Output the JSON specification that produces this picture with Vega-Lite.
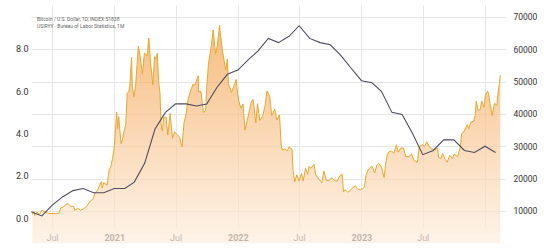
{
  "$schema": "https://vega.github.io/schema/vega-lite/v6.json",
  "width": 474,
  "height": 223,
  "autosize": {"type": "none"},
  "padding": {"left": 31, "top": 5, "right": 50, "bottom": 22},
  "background": "white",
  "title": {
    "text": "Bitcoin / U.S. Dollar, 1D, INDEX  51838",
    "subtitle": "USIRYY · Bureau of Labor Statistics, 1M",
    "anchor": "start",
    "frame": "group",
    "orient": "top",
    "fontSize": 5,
    "subtitleFontSize": 5,
    "font": "Roboto",
    "subtitleFont": "Roboto",
    "fontWeight": "normal",
    "color": "#666666",
    "subtitleColor": "#666666",
    "subtitlePadding": 2,
    "dx": 6,
    "dy": 24,
    "offset": 0
  },
  "datasets": {
    "btc": [
      {"d": "2020-05-04", "v": 8900}, {"d": "2020-05-08", "v": 9900}, {"d": "2020-05-11", "v": 8600}, {"d": "2020-05-18", "v": 9700},
      {"d": "2020-05-25", "v": 8900}, {"d": "2020-06-01", "v": 10200}, {"d": "2020-06-10", "v": 9800}, {"d": "2020-06-20", "v": 9300},
      {"d": "2020-07-01", "v": 9200}, {"d": "2020-07-15", "v": 9200}, {"d": "2020-07-22", "v": 9400}, {"d": "2020-07-27", "v": 11000},
      {"d": "2020-08-02", "v": 11100}, {"d": "2020-08-10", "v": 11900}, {"d": "2020-08-17", "v": 12300}, {"d": "2020-08-25", "v": 11500},
      {"d": "2020-09-03", "v": 11400}, {"d": "2020-09-06", "v": 10200}, {"d": "2020-09-15", "v": 10800}, {"d": "2020-09-23", "v": 10250},
      {"d": "2020-10-01", "v": 10600}, {"d": "2020-10-10", "v": 11300}, {"d": "2020-10-21", "v": 12900}, {"d": "2020-10-31", "v": 13800},
      {"d": "2020-11-05", "v": 15600}, {"d": "2020-11-12", "v": 16300}, {"d": "2020-11-18", "v": 17800}, {"d": "2020-11-24", "v": 19100},
      {"d": "2020-11-26", "v": 17100}, {"d": "2020-12-01", "v": 18800}, {"d": "2020-12-11", "v": 18000}, {"d": "2020-12-17", "v": 22800},
      {"d": "2020-12-21", "v": 23500}, {"d": "2020-12-27", "v": 26300}, {"d": "2020-12-31", "v": 29000},
      {"d": "2021-01-03", "v": 33000}, {"d": "2021-01-08", "v": 40600}, {"d": "2021-01-11", "v": 35500}, {"d": "2021-01-14", "v": 39200},
      {"d": "2021-01-21", "v": 30800}, {"d": "2021-01-26", "v": 32500}, {"d": "2021-01-29", "v": 34300}, {"d": "2021-02-04", "v": 36900},
      {"d": "2021-02-08", "v": 46400}, {"d": "2021-02-13", "v": 47000}, {"d": "2021-02-16", "v": 49000}, {"d": "2021-02-21", "v": 57500},
      {"d": "2021-02-23", "v": 48800}, {"d": "2021-02-28", "v": 45200}, {"d": "2021-03-05", "v": 48800}, {"d": "2021-03-13", "v": 61000},
      {"d": "2021-03-18", "v": 58000}, {"d": "2021-03-25", "v": 52300}, {"d": "2021-03-31", "v": 58900}, {"d": "2021-04-08", "v": 58000},
      {"d": "2021-04-13", "v": 63500}, {"d": "2021-04-18", "v": 56000}, {"d": "2021-04-25", "v": 49000}, {"d": "2021-04-30", "v": 57700},
      {"d": "2021-05-03", "v": 57000}, {"d": "2021-05-08", "v": 58800}, {"d": "2021-05-12", "v": 50000}, {"d": "2021-05-16", "v": 46500},
      {"d": "2021-05-19", "v": 37000}, {"d": "2021-05-23", "v": 34700}, {"d": "2021-05-27", "v": 39000}, {"d": "2021-06-03", "v": 39000},
      {"d": "2021-06-08", "v": 33500}, {"d": "2021-06-15", "v": 40200}, {"d": "2021-06-22", "v": 32500}, {"d": "2021-06-28", "v": 34500},
      {"d": "2021-07-05", "v": 33700}, {"d": "2021-07-13", "v": 32700}, {"d": "2021-07-20", "v": 29800}, {"d": "2021-07-26", "v": 37300},
      {"d": "2021-08-01", "v": 40000}, {"d": "2021-08-07", "v": 44500}, {"d": "2021-08-14", "v": 47100}, {"d": "2021-08-22", "v": 49300},
      {"d": "2021-08-27", "v": 48900}, {"d": "2021-09-06", "v": 51800}, {"d": "2021-09-07", "v": 46800}, {"d": "2021-09-14", "v": 47000},
      {"d": "2021-09-21", "v": 40500}, {"d": "2021-09-28", "v": 41000}, {"d": "2021-10-01", "v": 48200}, {"d": "2021-10-06", "v": 55300},
      {"d": "2021-10-15", "v": 61500}, {"d": "2021-10-20", "v": 66000}, {"d": "2021-10-27", "v": 58500}, {"d": "2021-11-01", "v": 61000},
      {"d": "2021-11-08", "v": 67500}, {"d": "2021-11-10", "v": 64900}, {"d": "2021-11-16", "v": 60000}, {"d": "2021-11-19", "v": 58000},
      {"d": "2021-11-26", "v": 53600}, {"d": "2021-12-01", "v": 57000}, {"d": "2021-12-04", "v": 49400}, {"d": "2021-12-13", "v": 46700},
      {"d": "2021-12-21", "v": 48900}, {"d": "2021-12-27", "v": 50700}, {"d": "2021-12-31", "v": 46300},
      {"d": "2022-01-05", "v": 43500}, {"d": "2022-01-10", "v": 41800}, {"d": "2022-01-16", "v": 43100}, {"d": "2022-01-22", "v": 35000},
      {"d": "2022-01-28", "v": 37700}, {"d": "2022-02-05", "v": 41500}, {"d": "2022-02-10", "v": 44000}, {"d": "2022-02-15", "v": 44500},
      {"d": "2022-02-23", "v": 37300}, {"d": "2022-02-28", "v": 43200}, {"d": "2022-03-07", "v": 38000}, {"d": "2022-03-15", "v": 39300},
      {"d": "2022-03-22", "v": 42400}, {"d": "2022-03-28", "v": 47100}, {"d": "2022-04-05", "v": 45500}, {"d": "2022-04-11", "v": 39500},
      {"d": "2022-04-20", "v": 41500}, {"d": "2022-04-26", "v": 38100}, {"d": "2022-05-04", "v": 39700}, {"d": "2022-05-09", "v": 30100},
      {"d": "2022-05-12", "v": 28900}, {"d": "2022-05-20", "v": 29200}, {"d": "2022-05-27", "v": 28600}, {"d": "2022-06-01", "v": 29800},
      {"d": "2022-06-10", "v": 29100}, {"d": "2022-06-13", "v": 22500}, {"d": "2022-06-18", "v": 19000}, {"d": "2022-06-24", "v": 21200},
      {"d": "2022-07-01", "v": 19300}, {"d": "2022-07-08", "v": 21600}, {"d": "2022-07-13", "v": 19300}, {"d": "2022-07-20", "v": 23200},
      {"d": "2022-07-26", "v": 21300}, {"d": "2022-07-30", "v": 23800}, {"d": "2022-08-05", "v": 23200}, {"d": "2022-08-14", "v": 24400},
      {"d": "2022-08-19", "v": 21200}, {"d": "2022-08-26", "v": 20200}, {"d": "2022-09-06", "v": 18800}, {"d": "2022-09-12", "v": 22400},
      {"d": "2022-09-19", "v": 19500}, {"d": "2022-09-28", "v": 19400}, {"d": "2022-10-05", "v": 20300}, {"d": "2022-10-13", "v": 19400},
      {"d": "2022-10-21", "v": 19200}, {"d": "2022-10-29", "v": 20800}, {"d": "2022-11-05", "v": 21300}, {"d": "2022-11-09", "v": 15900},
      {"d": "2022-11-14", "v": 16600}, {"d": "2022-11-21", "v": 15800}, {"d": "2022-11-28", "v": 16200}, {"d": "2022-12-05", "v": 17100},
      {"d": "2022-12-14", "v": 17800}, {"d": "2022-12-20", "v": 16900}, {"d": "2022-12-28", "v": 16500},
      {"d": "2023-01-04", "v": 16900}, {"d": "2023-01-10", "v": 17400}, {"d": "2023-01-14", "v": 20900}, {"d": "2023-01-21", "v": 22700},
      {"d": "2023-01-29", "v": 23700}, {"d": "2023-02-02", "v": 23700}, {"d": "2023-02-09", "v": 21800}, {"d": "2023-02-16", "v": 24300},
      {"d": "2023-02-21", "v": 24800}, {"d": "2023-03-01", "v": 23600}, {"d": "2023-03-09", "v": 20300}, {"d": "2023-03-13", "v": 24100},
      {"d": "2023-03-18", "v": 27400}, {"d": "2023-03-23", "v": 28300}, {"d": "2023-03-31", "v": 28500}, {"d": "2023-04-07", "v": 27900},
      {"d": "2023-04-14", "v": 30500}, {"d": "2023-04-20", "v": 28200}, {"d": "2023-04-27", "v": 29500}, {"d": "2023-05-05", "v": 29500},
      {"d": "2023-05-12", "v": 26800}, {"d": "2023-05-22", "v": 26800}, {"d": "2023-05-29", "v": 27700}, {"d": "2023-06-05", "v": 25700},
      {"d": "2023-06-15", "v": 25100}, {"d": "2023-06-21", "v": 30000}, {"d": "2023-06-30", "v": 30500}, {"d": "2023-07-06", "v": 29900},
      {"d": "2023-07-13", "v": 31400}, {"d": "2023-07-20", "v": 29900}, {"d": "2023-07-27", "v": 29300}, {"d": "2023-08-05", "v": 29000},
      {"d": "2023-08-14", "v": 29400}, {"d": "2023-08-17", "v": 26600}, {"d": "2023-08-24", "v": 26200}, {"d": "2023-08-29", "v": 27800},
      {"d": "2023-09-06", "v": 25800}, {"d": "2023-09-11", "v": 25100}, {"d": "2023-09-19", "v": 27200}, {"d": "2023-09-27", "v": 26200},
      {"d": "2023-10-02", "v": 27600}, {"d": "2023-10-12", "v": 26800}, {"d": "2023-10-20", "v": 29700}, {"d": "2023-10-24", "v": 33900},
      {"d": "2023-10-31", "v": 34600}, {"d": "2023-11-09", "v": 36700}, {"d": "2023-11-14", "v": 35500}, {"d": "2023-11-20", "v": 37500},
      {"d": "2023-11-28", "v": 37800}, {"d": "2023-12-03", "v": 39500}, {"d": "2023-12-06", "v": 44000}, {"d": "2023-12-11", "v": 41200},
      {"d": "2023-12-18", "v": 41400}, {"d": "2023-12-22", "v": 44000}, {"d": "2023-12-29", "v": 42100},
      {"d": "2024-01-02", "v": 45800}, {"d": "2024-01-08", "v": 47000}, {"d": "2024-01-11", "v": 46600}, {"d": "2024-01-16", "v": 43100},
      {"d": "2024-01-22", "v": 39500}, {"d": "2024-01-29", "v": 43300}, {"d": "2024-02-05", "v": 42700}, {"d": "2024-02-09", "v": 47100},
      {"d": "2024-02-13", "v": 49700}, {"d": "2024-02-15", "v": 52000}
    ],
    "cpi": [
      {"d": "2020-05-01", "v": 0.3}, {"d": "2020-06-01", "v": 0.1}, {"d": "2020-07-01", "v": 0.6}, {"d": "2020-08-01", "v": 1.0},
      {"d": "2020-09-01", "v": 1.3}, {"d": "2020-10-01", "v": 1.4}, {"d": "2020-11-01", "v": 1.2}, {"d": "2020-12-01", "v": 1.2},
      {"d": "2021-01-01", "v": 1.4}, {"d": "2021-02-01", "v": 1.4}, {"d": "2021-03-01", "v": 1.7}, {"d": "2021-04-01", "v": 2.6},
      {"d": "2021-05-01", "v": 4.2}, {"d": "2021-06-01", "v": 5.0}, {"d": "2021-07-01", "v": 5.4}, {"d": "2021-08-01", "v": 5.4},
      {"d": "2021-09-01", "v": 5.3}, {"d": "2021-10-01", "v": 5.4}, {"d": "2021-11-01", "v": 6.2}, {"d": "2021-12-01", "v": 6.8},
      {"d": "2022-01-01", "v": 7.0}, {"d": "2022-02-01", "v": 7.5}, {"d": "2022-03-01", "v": 7.9}, {"d": "2022-04-01", "v": 8.5},
      {"d": "2022-05-01", "v": 8.3}, {"d": "2022-06-01", "v": 8.6}, {"d": "2022-07-01", "v": 9.1}, {"d": "2022-08-01", "v": 8.5},
      {"d": "2022-09-01", "v": 8.3}, {"d": "2022-10-01", "v": 8.2}, {"d": "2022-11-01", "v": 7.7}, {"d": "2022-12-01", "v": 7.1},
      {"d": "2023-01-01", "v": 6.5}, {"d": "2023-02-01", "v": 6.4}, {"d": "2023-03-01", "v": 6.0}, {"d": "2023-04-01", "v": 5.0},
      {"d": "2023-05-01", "v": 4.9}, {"d": "2023-06-01", "v": 4.0}, {"d": "2023-07-01", "v": 3.0}, {"d": "2023-08-01", "v": 3.2},
      {"d": "2023-09-01", "v": 3.7}, {"d": "2023-10-01", "v": 3.7}, {"d": "2023-11-01", "v": 3.2}, {"d": "2023-12-01", "v": 3.1},
      {"d": "2024-01-01", "v": 3.4}, {"d": "2024-02-01", "v": 3.1}
    ]
  },
  "config": {
    "view": {"stroke": null},
    "axis": {"labelFont": "Roboto", "labelColor": "#333333", "domain": false, "ticks": false, "title": null}
  },
  "resolve": {"scale": {"y": "independent"}, "axis": {"y": "independent"}},
  "layer": [
    {
      "data": {"name": "btc"},
      "mark": {
        "type": "area",
        "line": {"color": "#e8a82e", "strokeWidth": 1},
        "fill": {
          "x1": 0, "y1": 0, "x2": 0, "y2": 1,
          "gradient": "linear",
          "stops": [
            {"offset": 0, "color": "#f3a047"},
            {"offset": 0.45, "color": "#f8c48e"},
            {"offset": 1, "color": "#fdeedf"}
          ]
        }
      },
      "encoding": {
        "x": {
          "field": "d", "type": "temporal",
          "scale": {"type": "utc", "domain": [{"year": 2020, "month": 4, "date": 30, "utc": true}, {"year": 2024, "month": 2, "date": 29, "utc": true}]},
          "axis": {
            "values": [
              {"year": 2020, "month": 7, "date": 1, "utc": true},
              {"year": 2021, "month": 1, "date": 1, "utc": true},
              {"year": 2021, "month": 7, "date": 1, "utc": true},
              {"year": 2022, "month": 1, "date": 1, "utc": true},
              {"year": 2022, "month": 7, "date": 1, "utc": true},
              {"year": 2023, "month": 1, "date": 1, "utc": true},
              {"year": 2023, "month": 7, "date": 1, "utc": true},
              {"year": 2024, "month": 1, "date": 1, "utc": true}
            ],
            "labelExpr": "utcmonth(datum.value) == 6 ? 'Jul' : (utcyear(datum.value) == 2024 ? '' : utcyear(datum.value) + '')",
            "labelFontWeight": {"expr": "utcmonth(datum.value) == 0 ? 'bold' : 'normal'"},
            "labelFontSize": 9,
            "labelPadding": 5,
            "grid": true,
            "gridColor": "#e6e6e6",
            "gridWidth": 1
          }
        },
        "y": {
          "field": "v", "type": "quantitative",
          "scale": {"domain": [4740, 73710], "nice": false, "zero": false},
          "axis": {
            "orient": "right",
            "values": [10000, 20000, 30000, 40000, 50000, 60000, 70000],
            "format": "d",
            "labelFontSize": 8.5,
            "labelPadding": 8,
            "grid": true,
            "gridColor": "#e6e6e6"
          }
        }
      }
    },
    {
      "data": {"name": "cpi"},
      "mark": {"type": "line", "color": "#4d4d60", "strokeWidth": 1.1},
      "encoding": {
        "x": {"field": "d", "type": "temporal"},
        "y": {
          "field": "v", "type": "quantitative",
          "scale": {"domain": [-0.47, 10.08], "nice": false, "zero": false},
          "axis": {
            "orient": "left",
            "values": [0, 2, 4, 6, 8],
            "format": ".1f",
            "labelFontSize": 9,
            "labelPadding": 3,
            "grid": false
          }
        }
      }
    }
  ]
}
